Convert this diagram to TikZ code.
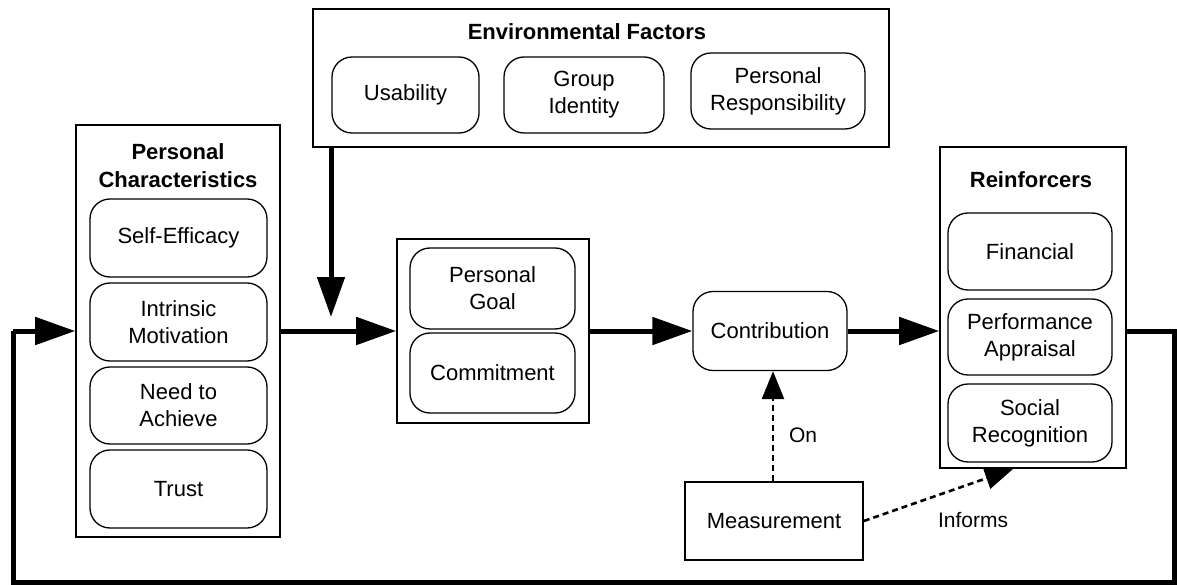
\documentclass[tikz,border=0pt]{standalone}
\usepackage{fontspec}
\setmainfont{Liberation Sans}
\usetikzlibrary{arrows.meta}
\begin{document}
\begin{tikzpicture}[x=1pt,y=-1pt,
  every node/.style={font=\fontsize{22}{27}\selectfont, align=center, inner sep=0pt},
  group/.style={draw, line width=1.6pt, rectangle},
  item/.style={draw, line width=1.3pt, rectangle, rounded corners=20pt},
  title/.style={font=\fontsize{22}{28}\selectfont\bfseries},
  thick arrow/.style={line width=5pt, -{Triangle[length=40pt,width=27pt]}},
  thick line/.style={line width=5pt},
  dot arrow/.style={line width=2.6pt, dash pattern=on 6pt off 4pt, -{Triangle[length=28pt,width=22pt]}},
  lbl/.style={font=\fontsize{21}{26}\selectfont}
]
\useasboundingbox (0,0) rectangle (1177,585);

% Environmental factors
\node[group, minimum width=576pt, minimum height=138pt] (env) at (601,78) {};
\node[title] (envt) at (587,32) {Environmental Factors};
\node[item, minimum width=147pt, minimum height=76pt] (usab) at (405.5,95) {Usability};
\node[item, minimum width=160pt, minimum height=76pt] (group) at (584,95) {Group\\Identity};
\node[item, minimum width=174pt, minimum height=76pt] (presp) at (778,91) {Personal\\Responsibility};

% Personal characteristics
\node[group, minimum width=204pt, minimum height=412pt] (pc) at (178,331) {};
\node[title] (pct) at (178,166) {Personal\\Characteristics};
\node[item, minimum width=177pt, minimum height=78pt] (self) at (178.5,238) {Self-Efficacy};
\node[item, minimum width=177pt, minimum height=78pt] (intr) at (178.5,322) {Intrinsic\\Motivation};
\node[item, minimum width=177pt, minimum height=77pt] (need) at (178.5,405.5) {Need to\\Achieve};
\node[item, minimum width=177pt, minimum height=78pt] (trust) at (178.5,489) {Trust};

% Goal box
\node[group, minimum width=192pt, minimum height=184pt] (goal) at (493,331) {};
\node[item, minimum width=165pt, minimum height=81pt] (pgoal) at (492.5,288.5) {Personal\\Goal};
\node[item, minimum width=165pt, minimum height=80pt] (commit) at (492.5,373) {Commitment};

% Contribution
\node[item, minimum width=154pt, minimum height=79pt] (contrib) at (770,331) {Contribution};

% Reinforcers
\node[group, minimum width=186pt, minimum height=321pt] (reinf) at (1033,307.5) {};
\node[title] (reinft) at (1031,180) {Reinforcers};
\node[item, minimum width=164pt, minimum height=77pt] (fin) at (1030,251.5) {Financial};
\node[item, minimum width=164pt, minimum height=76pt] (perf) at (1030,337) {Performance\\Appraisal};
\node[item, minimum width=164pt, minimum height=78pt] (soc) at (1030,423) {Social\\Recognition};

% Measurement
\node[group, minimum width=178pt, minimum height=78pt] (meas) at (774,521) {Measurement};

% coordinates
\coordinate (vstart) at (331,147);
\coordinate (vend) at (331,317);
\coordinate (fbTR) at (1174,331);
\coordinate (fbBR) at (1174,582);
\coordinate (fbBL) at (13,582);
\coordinate (fbTL) at (13,331);
\coordinate (inftip) at (1013,469);

% main flow
\draw[thick arrow] (pc.east) -- (goal.west);
\draw[thick arrow] (vstart) -- (vend);
\draw[thick arrow] (goal.east) -- (contrib.west);
\draw[thick arrow] (contrib.east) -- (contrib.east -| reinf.west);
\draw[thick line] (reinf.east |- contrib.east) -- (fbTR) -- (fbBR) -- (fbBL) -- (fbTL);
\draw[thick arrow] (fbTL) -- (pc.west);

% dotted
\draw[dot arrow] (meas.north -| 773,0) -- (contrib.south -| 773,0);
\draw[dot arrow] (meas.east) -- (inftip);
\node[lbl] (on) at (803,435) {On};
\node[lbl] (inf) at (973,520) {Informs};
\end{tikzpicture}
\end{document}
